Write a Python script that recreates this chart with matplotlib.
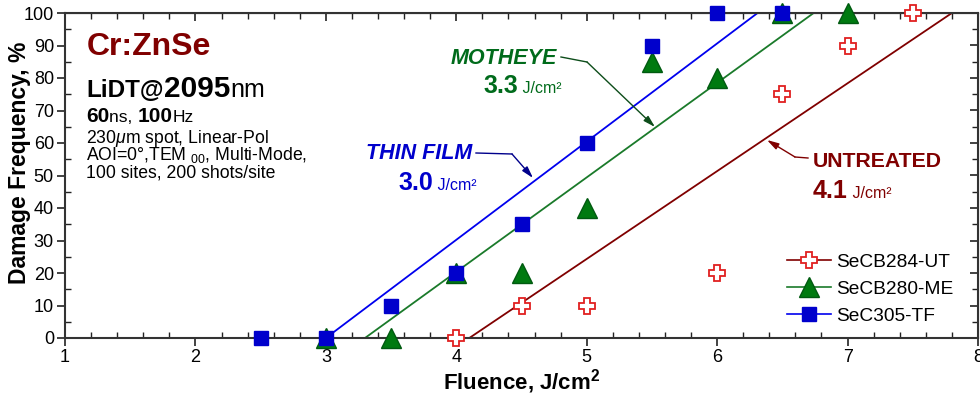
import numpy as np
import matplotlib
matplotlib.use('Agg')
import matplotlib.pyplot as plt
from matplotlib import font_manager
from matplotlib.lines import Line2D
from matplotlib.ticker import MultipleLocator


def pick_font(names):
    for n in names:
        try:
            font_manager.findfont(font_manager.FontProperties(family=n), fallback_to_default=False)
            return n
        except ValueError:
            pass
    return 'DejaVu Sans'


SANS = pick_font(['Liberation Sans', 'Arial', 'DejaVu Sans'])
NARROW = pick_font(['Liberation Sans Narrow', 'Liberation Sans'])
plt.rcParams['font.family'] = [SANS, 'DejaVu Sans']
plt.rcParams['mathtext.fontset'] = 'custom'
plt.rcParams['mathtext.rm'] = SANS
plt.rcParams['mathtext.it'] = SANS + ':italic'
plt.rcParams['mathtext.bf'] = SANS + ':bold'

# --- measured damage frequency (%) vs fluence (J/cm^2) ---
ut_fluence = [4.0, 4.5, 5.0, 6.0, 6.5, 7.0, 7.5]
ut_damage = [0, 10, 10, 20, 75, 90, 100]

me_fluence = [3.0, 3.5, 4.0, 4.5, 5.0, 5.5, 6.0, 6.5, 7.0]
me_damage = [0, 0, 20, 20, 40, 85, 80, 100, 100]

tf_fluence = [2.5, 3.0, 3.5, 4.0, 4.5, 5.0, 5.5, 6.0, 6.5]
tf_damage = [0, 0, 10, 20, 35, 60, 90, 100, 100]

# linear fits: threshold (0 %) and fluence where fit reaches 100 %
ut_fit = [4.1, 7.8]
me_fit = [3.3, 6.74]
tf_fit = [3.0, 6.31]

labels = ['SeCB284-UT', 'SeCB280-ME', 'SeC305-TF']

RED = '#800000'
GREEN = '#006b1b'
BLUE = '#0000cc'

W, H = 980, 396
fig = plt.figure(figsize=(W / 100, H / 100), dpi=100)
ax = fig.add_axes([65 / W, 1 - 338 / H, (978 - 65) / W, (338 - 13) / H])


def px(x, y):
    return x / W, 1 - y / H


# fit lines
ax.plot(ut_fit, [0, 100], color=RED, lw=1.3, zorder=2)
ax.plot(me_fit, [0, 100], color='#1a7a2a', lw=1.3, zorder=2)
ax.plot(tf_fit, [0, 100], color='#0000ee', lw=1.3, zorder=2)

# data points
ax.plot(ut_fluence, ut_damage, ls='none', marker='P', ms=12, mfc='white',
        mec='#e02020', mew=1.3, zorder=4, clip_on=False)
ax.plot(me_fluence, me_damage, ls='none', marker='^', ms=15, mfc='#007a10',
        mec='#005a10', mew=1.0, zorder=3, clip_on=False)
ax.plot(tf_fluence, tf_damage, ls='none', marker='s', ms=10.5, mfc=BLUE,
        mec=BLUE, zorder=5, clip_on=False)

ax.set_xlim(1, 8)
ax.set_ylim(0, 100)
ax.xaxis.set_major_locator(MultipleLocator(1))
ax.xaxis.set_minor_locator(MultipleLocator(0.2))
ax.yaxis.set_major_locator(MultipleLocator(10))
ax.yaxis.set_minor_locator(MultipleLocator(5))
ax.tick_params(which='major', direction='out', length=6, width=1.2, labelsize=13,
               colors='#222222', pad=2)
ax.tick_params(which='minor', direction='in', length=4, width=1.0, colors='#222222')
for lab in ax.get_xticklabels() + ax.get_yticklabels():
    lab.set_fontfamily(NARROW)
    lab.set_color('black')
for s in ax.spines.values():
    s.set_linewidth(1.5)
    s.set_color('#333333')

# inward ticks along top and right edges
top = ax.secondary_xaxis('top')
top.xaxis.set_major_locator(MultipleLocator(1))
top.xaxis.set_minor_locator(MultipleLocator(0.2))
top.tick_params(which='major', direction='in', length=6, width=1.2, labeltop=False, colors='#222222')
top.tick_params(which='minor', direction='in', length=4, width=1.0, colors='#222222')
right = ax.secondary_yaxis('right')
right.yaxis.set_major_locator(MultipleLocator(10))
right.yaxis.set_minor_locator(MultipleLocator(5))
right.tick_params(which='major', direction='in', length=6, width=1.2, labelright=False, colors='#222222')
right.tick_params(which='minor', direction='in', length=4, width=1.0, colors='#222222')

ax.set_xlabel('Fluence, J/cm$^\\mathbf{2}$', fontsize=16, fontweight='bold')
ax.xaxis.set_label_coords(0.5, -0.09)
ax.set_ylabel('Damage Frequency, %', fontsize=16.5, fontweight='bold')
ax.yaxis.set_label_coords(-0.037, 0.54)

# legend
handles = [
    Line2D([], [], color=RED, lw=1.2, marker='P', ms=12, mfc='white', mec='#e02020', mew=1.3),
    Line2D([], [], color='#1a7a2a', lw=1.2, marker='^', ms=15, mfc='#007a10', mec='#005a10'),
    Line2D([], [], color='#0000ee', lw=1.2, marker='s', ms=10.5, mfc=BLUE, mec=BLUE),
]
ax.legend(handles, labels, loc='upper left', bbox_to_anchor=px(777, 244),
          bbox_transform=fig.transFigure, frameon=False, fontsize=13.8,
          handlelength=2.3, handletextpad=0.3, labelspacing=0.5, borderpad=0)

renderer = fig.canvas.get_renderer()


def run_text(x, y, pieces, color):
    # draws consecutive text pieces on one baseline, starting at pixel x
    for s, size, weight in pieces:
        t = fig.text(*px(x, y), s, fontsize=size, fontweight=weight,
                     color=color, va='baseline', ha='left')
        x += t.get_window_extent(renderer).width


# sample description block
fig.text(*px(87, 55), 'Cr:ZnSe', fontsize=23, fontweight='bold', color=RED, va='baseline')
run_text(86, 97, [('LiDT@', 17.5, 'bold'), ('2095', 21.5, 'bold'), ('nm', 18, 'normal')], 'black')
run_text(86, 122, [('60', 15, 'bold'), ('ns, ', 12.5, 'normal'),
                   ('100', 15, 'bold'), ('Hz', 12.5, 'normal')], 'black')
fig.text(*px(86, 143), '230$\\mathit{\\mu}$m spot, Linear-Pol', fontsize=12.7, va='baseline')
fig.text(*px(86, 160), 'AOI=0°,TEM $_{00}$, Multi-Mode,', fontsize=12.7, va='baseline')
fig.text(*px(86, 177), '100 sites, 200 shots/site', fontsize=12.7, va='baseline')

# threshold call-outs
fig.text(*px(557, 64), 'MOTHEYE', fontsize=15.5, fontweight='bold', fontstyle='italic',
         color=GREEN, ha='right', va='baseline')
run_text(483, 93, [(f'{me_fit[0]:.1f}', 18, 'bold'), (' J/cm²', 11.5, 'normal')], GREEN)
fig.text(*px(472, 159), 'THIN FILM', fontsize=15.5, fontweight='bold', fontstyle='italic',
         color=BLUE, ha='right', va='baseline')
run_text(398, 190, [(f'{tf_fit[0]:.1f}', 18, 'bold'), (' J/cm²', 11.5, 'normal')], BLUE)
fig.text(*px(813, 167), 'UNTREATED', fontsize=15.3, fontweight='bold', color=RED, va='baseline')
run_text(813, 198, [(f'{ut_fit[0]:.1f}', 18, 'bold'), (' J/cm²', 11.5, 'normal')], RED)


def callout(p0, p1, p2, color):
    # leader from the label, then an arrow onto the fit line
    f = lambda p: (1 + (p[0] - 65) / 130.43, (338 - p[1]) / 3.25)
    a, b, c = f(p0), f(p1), f(p2)
    ax.plot([a[0], b[0]], [a[1], b[1]], color=color, lw=1.0, zorder=6)
    ax.annotate('', xy=c, xytext=b,
                arrowprops=dict(arrowstyle='-|>,head_length=0.7,head_width=0.2',
                                color=color, lw=1.0, shrinkA=0, shrinkB=0), zorder=6)


callout((561, 57), (587, 62), (655, 127), '#0d4d1a')
callout((476, 153), (512, 154), (533, 178), '#00008b')
callout((808, 158), (795, 157), (767, 140), RED)

fig.savefig('out.png', dpi=100)
